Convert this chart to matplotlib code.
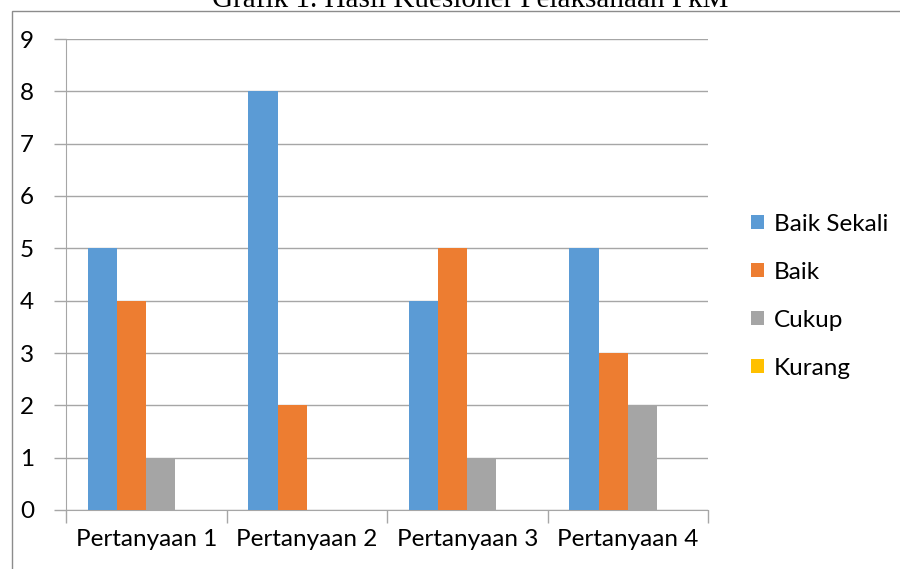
import numpy as np
import matplotlib
matplotlib.use('Agg')
import matplotlib.pyplot as plt
from matplotlib.patches import Rectangle

# data
categories = ['Pertanyaan 1', 'Pertanyaan 2', 'Pertanyaan 3', 'Pertanyaan 4']
baik_sekali = [5, 8, 4, 5]
baik = [4, 2, 5, 3]
cukup = [1, 0, 1, 2]
kurang = [0, 0, 0, 0]

series = [('Baik Sekali', baik_sekali, '#5B9BD5'),
          ('Baik', baik, '#ED7D31'),
          ('Cukup', cukup, '#A5A5A5'),
          ('Kurang', kurang, '#FFC000')]

fig = plt.figure(figsize=(9, 5.69), dpi=100)

# chart frame (cropped at right/bottom like the screenshot)
fig.patches.append(Rectangle((12 / 900, -0.05), 1.0, 1 - 11 / 569 + 0.05,
                             transform=fig.transFigure, fill=False,
                             edgecolor='#8c8c8c', linewidth=1.0))
# title, top cut off as in the screenshot
fig.text(470 / 900, 1 - 7 / 569, 'Grafik 1. Hasil Kuesioner Pelaksanaan PkM',
         ha='center', va='baseline', fontsize=21, family='Liberation Serif')

ax = fig.add_axes([66 / 900, 59 / 569, 642 / 900, 471 / 569])

x = np.arange(len(categories))
w = 1 / 5.5
for i, (name, vals, col) in enumerate(series):
    ax.bar(x - 1.5 * w + i * w, vals, width=w, color=col, label=name, zorder=3)

ax.set_xlim(-0.5, len(categories) - 0.5)
ax.set_ylim(0, 9)
ax.set_yticks(range(0, 10))
ax.yaxis.grid(True, color='#a6a6a6', linewidth=1.0, zorder=0)
ax.set_xticks(x)
ax.set_xticklabels(categories)
ax.set_xticks(np.arange(-0.5, len(categories)), minor=True)
ax.tick_params(axis='x', which='major', length=0, pad=14)
ax.tick_params(axis='x', which='minor', length=9, color='#a6a6a6', width=1)
ax.tick_params(axis='y', length=9, color='#a6a6a6', width=1, pad=14)
for lab in ax.get_xticklabels() + ax.get_yticklabels():
    lab.set_fontfamily('Lato')
    lab.set_fontsize(17.5)

for s in ['top', 'right']:
    ax.spines[s].set_visible(False)
ax.spines['left'].set_color('#a6a6a6')
ax.spines['bottom'].set_color('#a6a6a6')

leg = ax.legend(loc='center left', bbox_to_anchor=(1.033, 0.454), frameon=False,
                prop={'family': 'Lato', 'size': 17.5}, handlelength=0.55,
                handleheight=0.55, handletextpad=0.4, labelspacing=1.11)

fig.savefig('out.png', dpi=100)
